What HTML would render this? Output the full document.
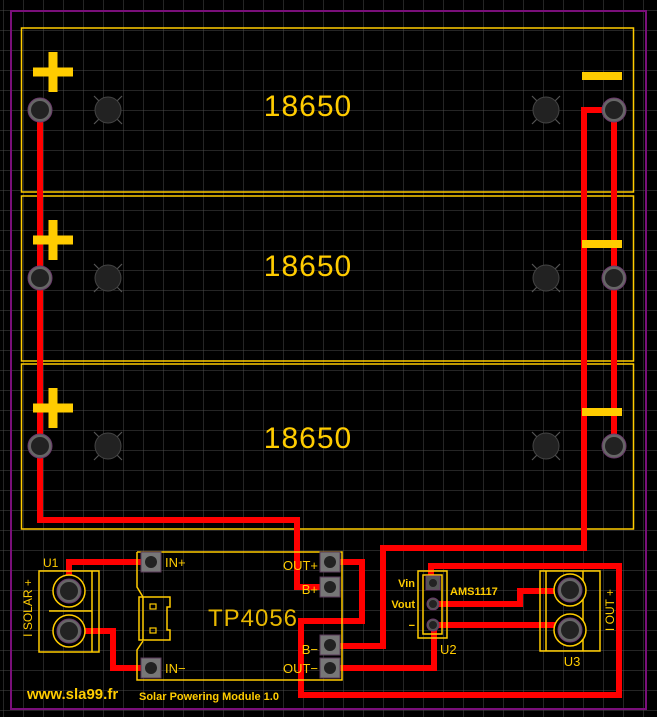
<!DOCTYPE html>
<html><head><meta charset="utf-8"><style>
html,body{margin:0;padding:0;background:#000;}
svg{display:block}
text{font-family:"Liberation Sans","DejaVu Sans",sans-serif;fill:#ffcc00}
</style></head><body>
<svg width="657" height="717" viewBox="0 0 657 717" xmlns="http://www.w3.org/2000/svg">
<defs>
<pattern id="g" x="3" y="10" width="20" height="20" patternUnits="userSpaceOnUse">
<path d="M0 0V20M0 0H20" stroke="#4a4a4a" stroke-width="1" fill="none"/>
</pattern>
<g id="pad"><circle r="12" fill="#666" stroke="#6a3a6a" stroke-width="1"/><circle r="9" fill="#222"/></g>
<g id="hole"><path d="M-14-14L14 14M14-14L-14 14" stroke="#555" stroke-width="1.2"/><circle r="13" fill="#222" stroke="#444" stroke-width="1"/></g>
<g id="sq"><rect x="-10" y="-10" width="20" height="20" fill="#777" stroke="#5a3a5a"/><circle r="6" fill="#222"/></g>
<g id="plus"><rect x="-20" y="-4.5" width="40" height="9" fill="#ffcc00"/><rect x="-4.5" y="-20" width="9" height="40" fill="#ffcc00"/></g>
</defs>
<rect width="657" height="717" fill="#000"/>
<rect width="657" height="717" fill="url(#g)"/>
<rect x="11" y="11" width="635" height="698" fill="none" stroke="#7a0f7a" stroke-width="2"/>
<g fill="none" stroke="#ffcc00" stroke-width="1.5">
<rect x="21.5" y="28" width="612" height="164"/>
<rect x="21.5" y="196" width="612" height="165"/>
<rect x="21.5" y="364" width="612" height="165"/>
</g>
<g font-size="30" text-anchor="middle" style="fill:#d8ac00" letter-spacing="1"><text x="308" y="116">18650</text><text x="308" y="276">18650</text><text x="308" y="448">18650</text></g>
<use href="#hole" x="108" y="110"/><use href="#hole" x="108" y="278"/><use href="#hole" x="108" y="446"/>
<use href="#hole" x="546" y="110"/><use href="#hole" x="546" y="278"/><use href="#hole" x="546" y="446"/>
<!-- traces -->
<g fill="none" stroke="#ff0000" stroke-width="6" stroke-linejoin="miter">
<path d="M40 110V520H297V587H330"/>
<path d="M614 110V446"/>
<path d="M614 110H584V548H383V646H330"/>
<path d="M330 562H362V621H301V695H619V566H431V583"/>
<path d="M330 668H434V625"/>
<path d="M433 604H520V591H570"/>
<path d="M433 625H570V630"/>
<path d="M69 591V562H151"/>
<path d="M69 631H113V668H151"/>
</g>
<use href="#plus" x="53" y="72"/><use href="#plus" x="53" y="240"/><use href="#plus" x="53" y="408"/>
<rect x="582" y="72" width="40" height="8" fill="#ffcc00"/>
<rect x="582" y="240" width="40" height="8" fill="#ffcc00"/>
<rect x="582" y="408" width="40" height="8" fill="#ffcc00"/>
<use href="#pad" x="40" y="110"/><use href="#pad" x="40" y="278"/><use href="#pad" x="40" y="446"/>
<use href="#pad" x="614" y="110"/><use href="#pad" x="614" y="278"/><use href="#pad" x="614" y="446"/>
<!-- TP4056 -->
<path d="M137 552H342V680H137V650L143 641M137 552V587L143 597" fill="none" stroke="#ffcc00" stroke-width="1.5"/>
<path d="M139 597H170V607H167V630H170V640H139Z M143 597V640" fill="none" stroke="#ffcc00" stroke-width="1.5"/>
<rect x="150" y="604" width="6" height="5" fill="none" stroke="#ffcc00" stroke-width="1.2"/>
<rect x="150" y="628" width="6" height="5" fill="none" stroke="#ffcc00" stroke-width="1.2"/>
<text x="253" y="626" font-size="24" text-anchor="middle" style="fill:#e8b800" letter-spacing="1">TP4056</text>
<use href="#sq" x="151" y="562"/><use href="#sq" x="151" y="668"/>
<use href="#sq" x="330" y="562"/><use href="#sq" x="330" y="587"/><use href="#sq" x="330" y="645"/><use href="#sq" x="330" y="668"/>
<g font-size="13"><text x="165" y="567">IN+</text><text x="165" y="673">IN−</text></g>
<g font-size="13" text-anchor="end"><text x="318" y="570">OUT+</text><text x="318" y="594">B+</text><text x="318" y="654">B−</text><text x="318" y="673">OUT−</text></g>
<!-- U1 -->
<rect x="39" y="571" width="60" height="81" fill="none" stroke="#ffcc00" stroke-width="1.5"/>
<path d="M92 571V652M49 611H92" stroke="#ffcc00" stroke-width="1.5"/>
<circle cx="69" cy="591" r="16" fill="#000" stroke="#ffcc00" stroke-width="1.5"/>
<circle cx="69" cy="631" r="16" fill="#000" stroke="#ffcc00" stroke-width="1.5"/>
<use href="#pad" x="69" y="591"/><use href="#pad" x="69" y="631"/>
<text x="43" y="567" font-size="12">U1</text>
<text transform="translate(32,608) rotate(-90)" font-size="12" text-anchor="middle">I   SOLAR   +</text>
<!-- U2 -->
<rect x="418" y="571" width="29" height="67" fill="none" stroke="#ffcc00" stroke-width="1.5"/>
<rect x="423" y="575" width="19" height="59" fill="none" stroke="#ffcc00" stroke-width="1.5"/>
<rect x="426" y="576" width="14" height="14" fill="#555" stroke="#6a3a6a"/>
<circle cx="433" cy="583" r="4" fill="#222"/>
<circle cx="433" cy="604" r="6" fill="#555" stroke="#6a3a6a"/><circle cx="433" cy="604" r="4" fill="#222"/>
<circle cx="433" cy="625" r="6" fill="#555" stroke="#6a3a6a"/><circle cx="433" cy="625" r="4" fill="#222"/>
<g font-size="11" font-weight="bold" text-anchor="end"><text x="415" y="587">Vin</text><text x="415" y="608">Vout</text><text x="415" y="629">−</text></g>
<text x="450" y="595" font-size="11" font-weight="bold">AMS1117</text>
<text x="440" y="654" font-size="13">U2</text>
<!-- U3 -->
<rect x="540" y="571" width="60" height="80" fill="none" stroke="#ffcc00" stroke-width="1.5"/>
<path d="M546 571V651M583 571V651" stroke="#ffcc00" stroke-width="1.5"/>
<circle cx="570" cy="590" r="16" fill="#000" stroke="#ffcc00" stroke-width="1.5"/>
<circle cx="570" cy="630" r="16" fill="#000" stroke="#ffcc00" stroke-width="1.5"/>
<use href="#pad" x="570" y="590"/><use href="#pad" x="570" y="630"/>
<text x="572" y="666" font-size="13" text-anchor="middle">U3</text>
<text transform="translate(614,610) rotate(-90)" font-size="12" text-anchor="middle">I   OUT   +</text>
<!-- footer -->
<text x="27" y="699" font-size="15" font-weight="bold">www.sla99.fr</text>
<text x="139" y="700" font-size="11" font-weight="bold">Solar Powering Module 1.0</text>
</svg>
</body></html>
